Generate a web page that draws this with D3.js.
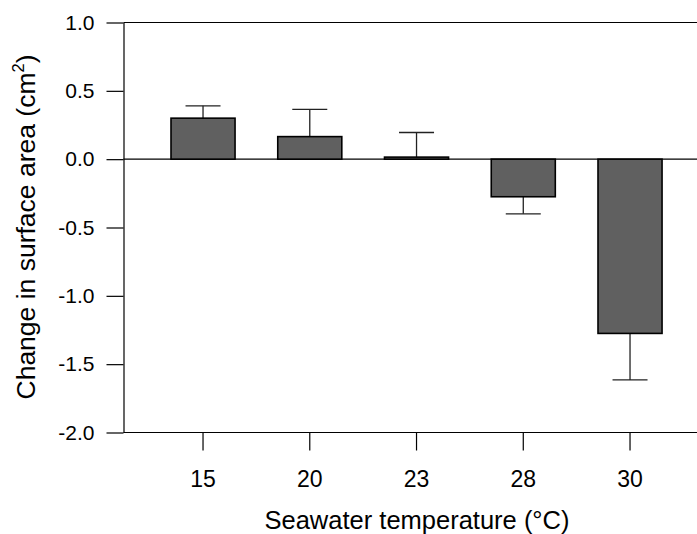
<!DOCTYPE html>
<html>
<head>
<meta charset="utf-8">
<script src="https://cdn.jsdelivr.net/npm/d3@7"></script>
<style>
  body { margin: 0; background: #fff; }
  svg text { font-family: "Liberation Sans", Arial, sans-serif; fill: #000; }
</style>
</head>
<body>
<svg class="chart"></svg>
<script>
// Datos
var temps = ["15", "20", "23", "28", "30"];
var means = [0.30, 0.165, 0.015, -0.275, -1.275];
var errs = [0.09, 0.20, 0.18, 0.125, 0.34];
var yTicks = [-2.0, -1.5, -1.0, -0.5, 0.0, 0.5, 1.0];

var W = 697, H = 534;
var pLeft = 123.5, pRight = 697, pTop = 22.5, pBottom = 432.5;

var svg = d3.select(".chart")
    .attr("width", W)
    .attr("height", H);

// Escalas
var x = d3.scaleBand()
    .domain(temps)
    .range([128.3, 704.75])
    .padding(0.4);

var y = d3.scaleLinear()
    .domain([-2, 1])
    .range([pBottom, pTop]);

var data = temps.map(function(t, i) { return { t: t, m: means[i], e: errs[i] }; });

// Lineas superior, inferior y cero
[1, -2, 0].forEach(function(v) {
  svg.append("line")
      .attr("x1", pLeft).attr("x2", pRight)
      .attr("y1", y(v)).attr("y2", y(v))
      .attr("stroke", "#000").attr("stroke-width", 1.2);
});

// Barras de error
var cap = 35;
var eb = svg.append("g").attr("stroke", "#222").attr("stroke-width", 1.3);
data.forEach(function(d) {
  var cx = x(d.t) + x.bandwidth() / 2;
  var end = d.m >= 0 ? d.m + d.e : d.m - d.e;
  eb.append("line")
      .attr("x1", cx).attr("x2", cx)
      .attr("y1", y(d.m)).attr("y2", y(end));
  eb.append("line")
      .attr("x1", cx - cap / 2).attr("x2", cx + cap / 2)
      .attr("y1", y(end)).attr("y2", y(end));
});

// Barras
svg.selectAll(".bar")
    .data(data)
  .enter().append("rect")
    .attr("class", "bar")
    .attr("x", function(d) { return x(d.t); })
    .attr("width", x.bandwidth())
    .attr("y", function(d) { return y(Math.max(0, d.m)); })
    .attr("height", function(d) { return Math.abs(y(d.m) - y(0)); })
    .attr("fill", "#606060")
    .attr("stroke", "#000")
    .attr("stroke-width", 1.6);

// Eje Y
var yAxis = svg.append("g")
    .attr("transform", "translate(" + pLeft + ",0)")
    .call(d3.axisLeft(y)
      .tickValues(yTicks)
      .tickFormat(function(d) { return d.toFixed(1); })
      .tickSize(17)
      .tickSizeOuter(0)
      .tickPadding(12));
yAxis.select(".domain").attr("stroke", "#000").attr("stroke-width", 1.2);
yAxis.selectAll(".tick line").attr("stroke", "#000").attr("stroke-width", 1.2);
yAxis.selectAll(".tick text")
    .attr("font-size", 21)
    .attr("font-family", "Liberation Sans, Arial, sans-serif")
    .attr("fill", "#000");

// Eje X
var xAxis = svg.append("g")
    .attr("transform", "translate(0," + pBottom + ")")
    .call(d3.axisBottom(x).tickSize(18).tickSizeOuter(0).tickPadding(20));
xAxis.select(".domain").remove();
xAxis.selectAll(".tick line").attr("stroke", "#000").attr("stroke-width", 1.2);
xAxis.selectAll(".tick text")
    .attr("font-size", 23)
    .attr("font-family", "Liberation Sans, Arial, sans-serif")
    .attr("fill", "#000");

// Titulos
svg.append("text")
    .attr("x", 417)
    .attr("y", 529)
    .attr("text-anchor", "middle")
    .attr("font-size", 25.5)
    .text("Seawater temperature (°C)");

var yt = svg.append("text")
    .attr("transform", "translate(35,227) rotate(-90)")
    .attr("text-anchor", "middle")
    .attr("font-size", 26.5);
yt.append("tspan").text("Change in surface area (cm");
yt.append("tspan").attr("font-size", 16.5).attr("dy", -11.5).text("2");
yt.append("tspan").attr("dy", 11.5).text(")");
</script>
</body>
</html>
